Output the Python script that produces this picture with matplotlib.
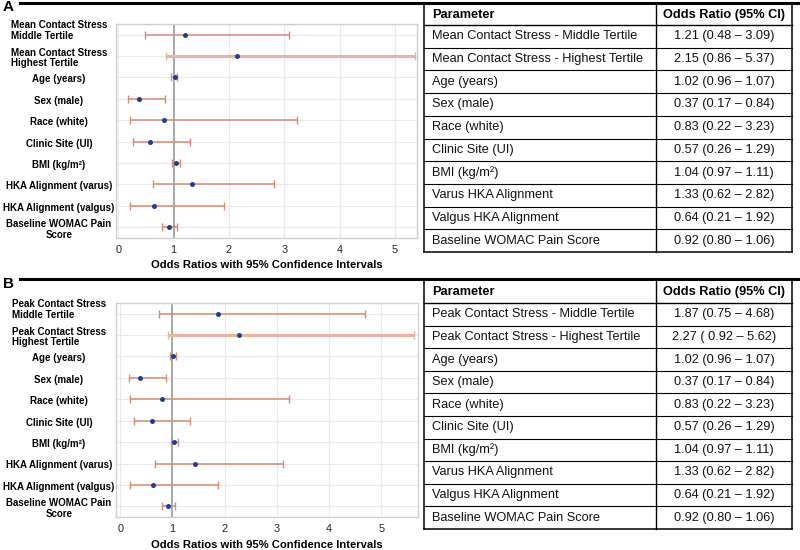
import matplotlib
matplotlib.use("Agg")
import matplotlib.pyplot as plt
from matplotlib.lines import Line2D

plt.rcParams['font.family'] = ['Liberation Sans', 'DejaVu Sans']

# ---------------- data ----------------
labels_a = ["Mean Contact Stress\nMiddle Tertile", "Mean Contact Stress\nHighest Tertile",
            "Age (years)", "Sex (male)", "Race (white)", "Clinic Site (UI)", "BMI (kg/m²)",
            "HKA Alignment (varus)", "HKA Alignment (valgus)", "Baseline WOMAC Pain\nScore"]
or_a = [1.21, 2.15, 1.02, 0.37, 0.83, 0.57, 1.04, 1.33, 0.64, 0.92]
lo_a = [0.48, 0.86, 0.96, 0.17, 0.22, 0.26, 0.97, 0.62, 0.21, 0.80]
hi_a = [3.09, 5.37, 1.07, 0.84, 3.23, 1.29, 1.11, 2.82, 1.92, 1.06]

labels_b = ["Peak Contact Stress\nMiddle Tertile", "Peak Contact Stress\nHighest Tertile",
            "Age (years)", "Sex (male)", "Race (white)", "Clinic Site (UI)", "BMI (kg/m²)",
            "HKA Alignment (varus)", "HKA Alignment (valgus)", "Baseline WOMAC Pain\nScore"]
or_b = [1.87, 2.27, 1.01, 0.38, 0.80, 0.61, 1.03, 1.43, 0.62, 0.91]
lo_b = [0.75, 0.92, 0.96, 0.16, 0.19, 0.27, 0.97, 0.67, 0.19, 0.80]
hi_b = [4.68, 5.62, 1.07, 0.88, 3.24, 1.34, 1.11, 3.11, 1.88, 1.04]

xticks = [0, 1, 2, 3, 4, 5]
xlabel = "Odds Ratios with 95% Confidence Intervals"

table_header = ["Parameter", "Odds Ratio (95% CI)"]
table_params_a = ["Mean Contact Stress - Middle Tertile", "Mean Contact Stress - Highest Tertile",
                  "Age (years)", "Sex (male)", "Race (white)", "Clinic Site (UI)", "BMI (kg/m²)",
                  "Varus HKA Alignment", "Valgus HKA Alignment", "Baseline WOMAC Pain Score"]
table_vals_a = ["1.21 (0.48 – 3.09)", "2.15 (0.86 – 5.37)", "1.02 (0.96 – 1.07)",
                "0.37 (0.17 – 0.84)", "0.83 (0.22 – 3.23)", "0.57 (0.26 – 1.29)",
                "1.04 (0.97 – 1.11)", "1.33 (0.62 – 2.82)", "0.64 (0.21 – 1.92)",
                "0.92 (0.80 – 1.06)"]
table_params_b = ["Peak Contact Stress - Middle Tertile", "Peak Contact Stress - Highest Tertile",
                  "Age (years)", "Sex (male)", "Race (white)", "Clinic Site (UI)", "BMI (kg/m²)",
                  "Varus HKA Alignment", "Valgus HKA Alignment", "Baseline WOMAC Pain Score"]
table_vals_b = ["1.87 (0.75 – 4.68)", "2.27 ( 0.92 – 5.62)", "1.02 (0.96 – 1.07)",
                "0.37 (0.17 – 0.84)", "0.83 (0.22 – 3.23)", "0.57 (0.26 – 1.29)",
                "1.04 (0.97 – 1.11)", "1.33 (0.62 – 2.82)", "0.64 (0.21 – 1.92)",
                "0.92 (0.80 – 1.06)"]

# ---------------- figure ----------------
W, H = 800, 550
fig = plt.figure(figsize=(8, 5.5), dpi=100)

ERR = "#d98a72"
ERR_THICK = "#e8b3a2"
DOT = "#1f3d9e"


def px_axes(left, top, right, bottom):
    return fig.add_axes([left / W, 1 - bottom / H, (right - left) / W, (bottom - top) / H])


def forest(ax, labels, ors, los, his, xlim, left_px, right_px):
    n = len(labels)
    ys = list(range(1, n + 1))
    for i in range(n):
        thick = (i == 1)
        ax.errorbar(ors[i], ys[i], xerr=[[ors[i] - los[i]], [his[i] - ors[i]]],
                    fmt='none', ecolor=ERR_THICK if thick else ERR,
                    elinewidth=2.2 if thick else 1.1, capsize=2.6, capthick=1.0, zorder=3)
    ax.scatter(ors, ys, s=13, color=DOT, zorder=4, linewidths=0)
    ax.axvline(1, color="#a8a8a8", lw=1.4, zorder=2)
    ax.set_xlim(*xlim)
    ax.set_ylim(n + 0.5, 0.5)
    ax.set_xticks(xticks)
    ax.set_xticklabels([str(t) for t in xticks], fontsize=7.8, color="#222222")
    ax.set_yticks(ys)
    ax.set_yticklabels([])
    # category labels, centred at ~59 px from the left edge of the figure
    xc = (59 - left_px) / (right_px - left_px)
    for i, lab in enumerate(labels):
        yoff = (-0.3 if i == 0 else 0.0) + 0.09
        ax.text(xc, ys[i] + yoff, lab, transform=ax.get_yaxis_transform(),
                fontsize=7.0, fontweight='bold', ha='center', va='center',
                multialignment='center' if i == n - 1 else 'left',
                linespacing=1.1, clip_on=False)
    ax.tick_params(axis='y', length=0)
    ax.tick_params(axis='x', length=0, pad=5)
    ax.grid(True, color="#e9e9e9", lw=0.8, zorder=0)
    ax.set_axisbelow(True)
    for s in ax.spines.values():
        s.set_color("#cfcfcf")
        s.set_linewidth(1.0)
    ax.set_xlabel(xlabel, fontsize=8.1, fontweight='bold', labelpad=4)


axA = px_axes(116, 24, 417, 238)
forest(axA, labels_a, or_a, lo_a, hi_a, (-0.04, 5.40), 116, 417)
axB = px_axes(116, 303, 418, 517)
forest(axB, labels_b, or_b, lo_b, hi_b, (-0.08, 5.70), 116, 418)

# ---------------- overlay: panel letters, rules, tables ----------------
ov = fig.add_axes([0, 0, 1, 1], zorder=-1)
ov.set_xlim(0, W)
ov.set_ylim(H, 0)
ov.axis('off')


def table(top, hdr_bottom, bottom, params, vals):
    left, mid, right = 424, 656, 792
    n = len(params)
    rh = (bottom - hdr_bottom) / n
    lc = "black"
    ov.add_line(Line2D([left, right], [bottom, bottom], color=lc, lw=1.1))
    ov.add_line(Line2D([left, left], [top, bottom], color=lc, lw=1.1))
    ov.add_line(Line2D([right, right], [top, bottom], color=lc, lw=1.1))
    ov.add_line(Line2D([mid, mid], [top, bottom], color=lc, lw=1.0))
    ov.add_line(Line2D([left, right], [hdr_bottom, hdr_bottom], color=lc, lw=1.0))
    for i in range(1, n):
        y = hdr_bottom + i * rh
        ov.add_line(Line2D([left, right], [y, y], color=lc, lw=0.8))
    hy = (top + hdr_bottom) / 2 + 1
    fs = 9.2
    ov.text(432, hy, table_header[0], fontsize=fs, fontweight='bold', ha='left', va='center')
    ov.text((mid + right) / 2, hy, table_header[1], fontsize=fs, fontweight='bold',
            ha='center', va='center')
    for i in range(n):
        y = hdr_bottom + (i + 0.5) * rh
        ov.text(432, y, params[i], fontsize=fs, ha='left', va='center', color="#111111")
        ov.text((mid + right) / 2, y, vals[i], fontsize=fs, ha='center', va='center',
                color="#111111")


ov.add_line(Line2D([20, 800], [3, 3], color="black", lw=2.2))
ov.add_line(Line2D([20, 800], [279, 279], color="black", lw=2.2))
ov.text(3, 7, "A", fontsize=11, fontweight='bold', ha='left', va='center')
ov.text(3, 284, "B", fontsize=11, fontweight='bold', ha='left', va='center')

table(3, 25, 252, table_params_a, table_vals_a)
table(279, 303, 529, table_params_b, table_vals_b)

fig.savefig("out.png", dpi=100)
